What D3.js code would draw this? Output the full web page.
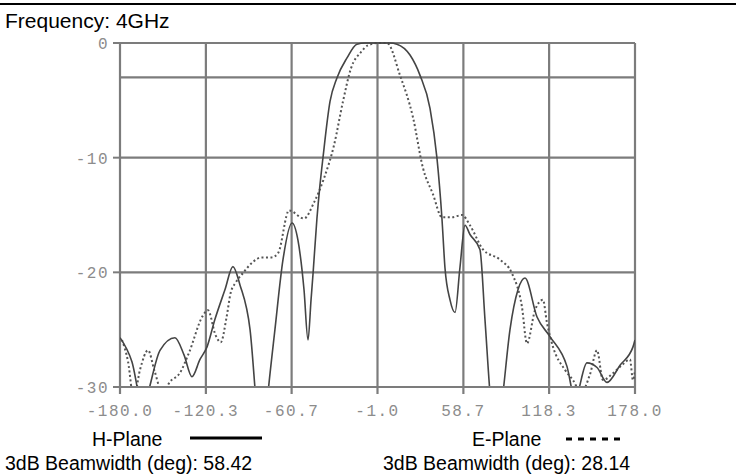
<!DOCTYPE html>
<html>
<head>
<meta charset="utf-8">
<script src="https://cdn.jsdelivr.net/npm/d3@7"></script>
<style>
  body { margin: 0; background: #fff; }
  svg { display: block; }
</style>
</head>
<body>
<svg id="chart" width="736" height="475"></svg>
<script>
// Angle ticks (deg) and level ticks (dB)
const xTicks = [-180.0, -120.3, -60.7, -1.0, 58.7, 118.3, 178.0];
const yTicks = [0, -10, -20, -30];
const yGrid = [0, -3, -10, -20, -30];

// H-Plane pattern (solid), [deg, dB]
const hPlane = [
  [-180, -25.7], [-171.7, -27.8], [-164.5, -31.5], [-152.2, -26.8], [-141.8, -25.7],
  [-135.5, -27.2], [-130.0, -29.1], [-124.4, -27.6], [-119.5, -26.5], [-114.0, -24.1],
  [-107.0, -21.5], [-101.5, -19.5], [-96.6, -21.1], [-89.6, -25.0], [-84.0, -33],
  [-80.5, -35], [-77.1, -30.5], [-72.3, -25.0], [-66.7, -18.9], [-60.4, -15.7],
  [-56.3, -17.2], [-52.1, -21.5], [-49.3, -25.9], [-47.2, -22.4], [-45.8, -20.1],
  [-43.1, -15.3], [-41.0, -12.4], [-38.9, -10.0], [-34.0, -5.1], [-29.2, -3.05],
  [-22.2, -1.3], [-15.3, -0.1], [-9.7, 0], [-0.7, 0], [7.7, 0], [12.5, -0.1],
  [21.6, -1.05], [28.5, -2.8], [35.5, -5.7], [40.3, -10.0], [43.8, -15.3],
  [45.9, -19.6], [49.4, -22.4], [52.9, -23.5], [56.3, -19.6], [59.8, -15.9],
  [63.3, -16.7], [70.2, -18.0], [73.7, -24.1], [77.5, -31], [81.5, -35],
  [85.8, -31], [91.1, -25.0], [96.7, -21.5], [101.5, -20.5], [109.9, -23.9],
  [118.9, -25.6], [130.7, -28.2], [136.3, -31], [144.6, -27.9], [151.6, -28.3],
  [158.5, -29.6], [167.6, -28.1], [176.6, -26.5], [178, -25.9]
];

// E-Plane pattern (dotted), [deg, dB]
const ePlane = [
  [-178.6, -25.9], [-174.4, -27.8], [-170.5, -31], [-166.1, -28.5], [-160.5, -26.8],
  [-156.0, -28.6], [-150.5, -30.5], [-145.0, -29.5], [-138.5, -28.8], [-132.0, -27.0],
  [-122.5, -23.8], [-118.9, -23.3], [-113.5, -25.5], [-110.0, -26.1], [-105.9, -23.9],
  [-103.1, -21.8], [-99.6, -20.9], [-94.1, -20.0], [-88.5, -19.2], [-81.6, -18.7],
  [-74.6, -18.7], [-70.0, -18.3], [-62.5, -14.6], [-52.1, -15.3], [-45.1, -13.9],
  [-38.2, -11.8], [-31.2, -8.9], [-25.0, -5.1], [-19.4, -2.2], [-12.5, -0.8],
  [-7.6, -0.2], [-0.0, 0], [5.6, 0], [14.6, -2.8], [23.7, -6.5], [30.6, -10.9],
  [37.6, -13.2], [43.8, -15.2], [50.8, -15.2], [57.7, -15.0], [63.3, -15.9],
  [72.3, -18.0], [84.1, -18.9], [92.5, -20.1], [99.4, -23.0], [102.9, -26.2],
  [108.5, -23.3], [114.0, -22.4], [116.8, -24.4], [121.0, -26.5], [129.3, -28.5],
  [134.9, -29.4], [140.5, -30.5], [146.7, -28.9], [151.6, -26.8], [155.7, -29.4],
  [162.7, -28.8], [168.9, -28.1], [174.5, -27.6], [176.6, -29.4], [178, -28.6]
];

const hBeam = 58.42;
const eBeam = 28.14;

const svg = d3.select("#chart");
const plot = {left: 120, right: 635, top: 43, bottom: 387};

const x = d3.scaleLinear().domain([-180, 178]).range([plot.left, plot.right]);
const y = d3.scaleLinear().domain([-30, 0]).range([plot.bottom, plot.top]);

const gridColor = "#7c7c7c";
const labelColor = "#8c8c8c";
const sans = "Liberation Sans, Arial, sans-serif";
const monoFont = "Liberation Mono, DejaVu Sans Mono, monospace";

// top rule
svg.append("line").attr("x1", 0).attr("x2", 736).attr("y1", 4).attr("y2", 4)
  .attr("stroke", "#000").attr("stroke-width", 2);

svg.append("text").attr("x", 5).attr("y", 28)
  .attr("font-family", sans).attr("font-size", 21)
  .attr("fill", "#000").text("Frequency: 4GHz");

// grid
svg.append("g").selectAll("line").data(yGrid).join("line")
  .attr("x1", plot.left).attr("x2", plot.right)
  .attr("y1", d => y(d)).attr("y2", d => y(d))
  .attr("stroke", gridColor).attr("stroke-width", 2.2);

svg.append("g").selectAll("line").data(xTicks).join("line")
  .attr("x1", d => x(d)).attr("x2", d => x(d))
  .attr("y1", plot.top).attr("y2", plot.bottom + 7)
  .attr("stroke", gridColor).attr("stroke-width", 2.2);

// y ticks
svg.append("g").selectAll("line").data(yTicks).join("line")
  .attr("x1", plot.left - 7).attr("x2", plot.left)
  .attr("y1", d => y(d)).attr("y2", d => y(d))
  .attr("stroke", gridColor).attr("stroke-width", 2);

svg.append("g").selectAll("text").data(yTicks).join("text")
  .attr("x", plot.left - 11).attr("y", d => y(d) + 6)
  .attr("text-anchor", "end")
  .attr("font-family", monoFont).attr("font-size", 16)
  .attr("letter-spacing", 1.5)
  .attr("fill", labelColor).text(d => d);

svg.append("g").selectAll("text").data(xTicks).join("text")
  .attr("x", d => x(d)).attr("y", plot.bottom + 29)
  .attr("text-anchor", "middle")
  .attr("font-family", monoFont).attr("font-size", 16)
  .attr("letter-spacing", 1.5)
  .attr("fill", labelColor).text(d => d.toFixed(1));

// curves
svg.append("clipPath").attr("id", "plot-clip").append("rect")
  .attr("x", plot.left).attr("y", plot.top - 2)
  .attr("width", plot.right - plot.left).attr("height", plot.bottom - plot.top + 1);

const line = d3.line().x(d => x(d[0])).y(d => y(d[1])).curve(d3.curveMonotoneX);

const curves = svg.append("g").attr("clip-path", "url(#plot-clip)");

curves.append("path").datum(ePlane).attr("d", line)
  .attr("fill", "none").attr("stroke", "#555").attr("stroke-width", 2)
  .attr("stroke-dasharray", "2,2.5");

curves.append("path").datum(hPlane).attr("d", line)
  .attr("fill", "none").attr("stroke", "#444").attr("stroke-width", 1.6);

// legend
const legendSize = 19.5;
svg.append("text").attr("x", 92).attr("y", 446).attr("font-family", sans)
  .attr("font-size", legendSize).attr("fill", "#000").text("H-Plane");
svg.append("line").attr("x1", 190).attr("x2", 262).attr("y1", 438).attr("y2", 438)
  .attr("stroke", "#000").attr("stroke-width", 3);
svg.append("text").attr("x", 5).attr("y", 470).attr("font-family", sans)
  .attr("font-size", legendSize).attr("fill", "#000").text("3dB Beamwidth (deg): " + hBeam.toFixed(2));

svg.append("text").attr("x", 472).attr("y", 446).attr("font-family", sans)
  .attr("font-size", legendSize).attr("fill", "#000").text("E-Plane");
svg.append("line").attr("x1", 566).attr("x2", 626).attr("y1", 439).attr("y2", 439)
  .attr("stroke", "#000").attr("stroke-width", 3).attr("stroke-dasharray", "6,6");
svg.append("text").attr("x", 383).attr("y", 470).attr("font-family", sans)
  .attr("font-size", legendSize).attr("fill", "#000").text("3dB Beamwidth (deg): " + eBeam.toFixed(2));
</script>
</body>
</html>
